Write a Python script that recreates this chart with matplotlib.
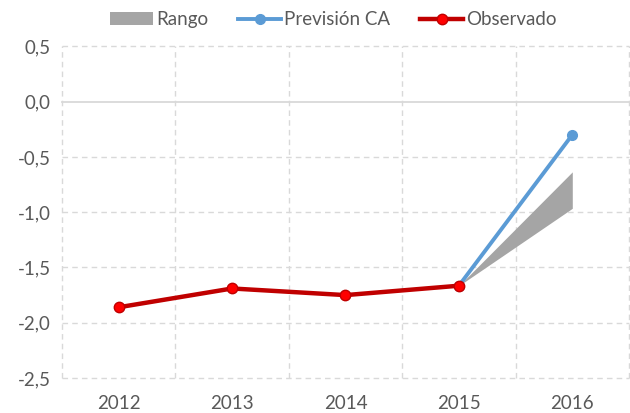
import numpy as np
import matplotlib.pyplot as plt
from matplotlib.patches import Patch
from matplotlib.lines import Line2D

# --- data ---
years = ["2012", "2013", "2014", "2015", "2016"]
observado = [-1.86, -1.69, -1.75, -1.665]
prevision_years = ["2015", "2016"]
prevision = [-1.665, -0.30]
rango_years = ["2015", "2016"]
rango_low = [-1.665, -0.965]
rango_high = [-1.665, -0.635]
y_ticks = [-2.5, -2.0, -1.5, -1.0, -0.5, 0.0, 0.5]

TEXT = "#595959"
GRID = "#D9D9D9"
BLUE = "#5B9BD5"
RED_LINE = "#C00000"
RED_DOT = "#FF0000"
GREY = "#A5A5A5"

plt.rcParams['font.family'] = ['Lato', 'DejaVu Sans']

fig = plt.figure(figsize=(6.3, 4.13), dpi=100)
ax = fig.add_axes([0.0984, 0.0847, 0.9, 0.803])

pos = {y: i for i, y in enumerate(years)}
x_obs = [pos[y] for y in years[:len(observado)]]
x_prev = [pos[y] for y in prevision_years]
x_rng = [pos[y] for y in rango_years]

ax.set_xlim(-0.5, len(years) - 0.5)
ax.set_ylim(y_ticks[0], y_ticks[-1])

# dashed grid, incl. the outer frame; the zero line is the solid category axis
for yv in y_ticks:
    if yv == 0:
        ax.axhline(yv, color=GRID, lw=1.3, zorder=1, clip_on=False)
    else:
        ax.axhline(yv, color=GRID, lw=1.0, ls=(0, (4, 3)), zorder=0, clip_on=False)
for xb in np.arange(-0.5, len(years), 1.0):
    ax.axvline(xb, color=GRID, lw=1.0, ls=(0, (4, 3)), zorder=0, clip_on=False)

ax.fill_between(x_rng, rango_low, rango_high, color=GREY, lw=0, zorder=2)
ax.plot(x_prev, prevision, color=BLUE, lw=2.8, marker='o', ms=7,
        mfc=BLUE, mec=BLUE, zorder=3)
ax.plot(x_obs, observado, color=RED_LINE, lw=3.2, marker='o', ms=7.5,
        mfc=RED_DOT, mec=RED_LINE, mew=1, zorder=4)

for s in ax.spines.values():
    s.set_visible(False)

ax.set_xticks(range(len(years)))
ax.set_xticklabels(years)
ax.set_yticks(y_ticks)
ax.set_yticklabels([f"{v:.1f}".replace('.', ',') for v in y_ticks])
ax.tick_params(length=0, colors=TEXT, labelsize=13.5)
ax.tick_params(axis='x', pad=12)
ax.tick_params(axis='y', pad=8)

handles = [
    Patch(facecolor=GREY, edgecolor='none'),
    Line2D([], [], color=BLUE, lw=2.8, marker='o', ms=7, mfc=BLUE, mec=BLUE),
    Line2D([], [], color=RED_LINE, lw=3.2, marker='o', ms=7.5, mfc=RED_DOT, mec=RED_LINE),
]
fig.legend(handles, ["Rango", "Previsión CA", "Observado"], loc='center',
           bbox_to_anchor=(0.529, 0.952), ncol=3, frameon=False, fontsize=13.5,
           labelcolor=TEXT, handlelength=2.3, handletextpad=0.15, columnspacing=1.6)

fig.savefig("out.png", dpi=100)
